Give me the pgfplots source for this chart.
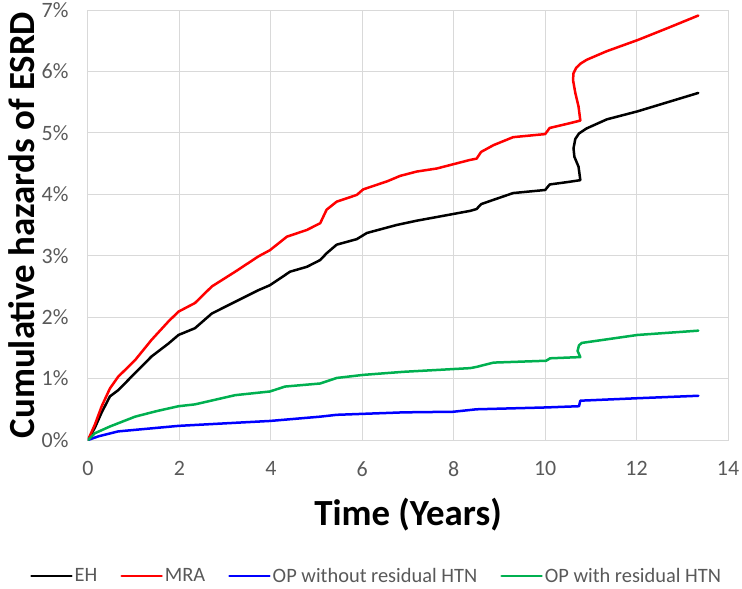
\documentclass[border=0pt]{standalone}
\usepackage{fontspec}
\setmainfont{Carlito}
\usepackage{pgfplots}
\pgfplotsset{compat=1.18}
\definecolor{gridc}{HTML}{D9D9D9}
\definecolor{tickc}{HTML}{595959}
\definecolor{ehc}{HTML}{000000}
\definecolor{mrac}{HTML}{FF0000}
\definecolor{opwo}{HTML}{0000FF}
\definecolor{opw}{HTML}{00B050}
\begin{document}
\begin{tikzpicture}
\begin{axis}[
  scale only axis,
  width=640bp, height=430bp,
  xmin=0, xmax=14, ymin=0, ymax=7,
  xtick={0,2,4,6,8,10,12,14},
  xticklabels={0,2,4,6,8,10,12,14},
  ytick={0,1,2,3,4,5,6,7},
  yticklabels={0\%,1\%,2\%,3\%,4\%,5\%,6\%,7\%},
  major tick length=0pt,
  grid=major,
  grid style={gridc, line width=1bp},
  axis line style={gridc, line width=1bp},
  ticklabel style={font=\fontsize{22}{26}\selectfont, text=tickc},
  xticklabel style={yshift=-18bp},
  yticklabel style={xshift=-16bp},
  xlabel={Time (Years)},
  ylabel={Cumulative hazards of ESRD},
  every axis x label/.style={at={(axis description cs:0.5,0)}, anchor=center, yshift=-75bp, font=\fontsize{37}{42}\selectfont\bfseries},
  every axis y label/.style={at={(axis description cs:0,0.5)}, anchor=center, rotate=90, yshift=66bp, font=\fontsize{37}{42}\selectfont\bfseries},
  legend style={at={(axis description cs:0.451,0)}, anchor=center, yshift=-136bp, draw=none, fill=none,
    font=\fontsize{20.5}{24}\selectfont, text=tickc, inner sep=0pt,
    /tikz/every even column/.append style={column sep=21bp}},
  legend columns=-1,
  legend image code/.code={\draw[#1, line width=2.5bp] (0bp,0bp) -- (40bp,0bp);},
  every axis plot/.append style={line width=2.5bp, line join=round, line cap=round},
]
\addplot[ehc] coordinates {
(0,0) (0.15,0.2) (0.3,0.45) (0.48,0.71) (0.66,0.81) (1.03,1.09) (1.39,1.36) (1.76,1.57) (1.98,1.71)
(2.34,1.82) (2.71,2.06) (3.22,2.25) (3.73,2.44) (3.98,2.52) (4.42,2.74) (4.79,2.82) (5.08,2.93)
(5.22,3.04) (5.44,3.18) (5.88,3.27) (6.10,3.37) (6.75,3.50) (7.19,3.57) (7.63,3.63) (8.36,3.73)
(8.5,3.76) (8.6,3.84) (8.87,3.91) (9.3,4.02) (10.0,4.07) (10.1,4.16) (10.5,4.20) (10.77,4.23)
(10.73,4.45) (10.64,4.61) (10.62,4.75) (10.66,4.90) (10.74,4.99) (10.9,5.07) (11.35,5.22) (12.02,5.35) (13.35,5.65)
};
\addlegendentry{EH}
\addplot[mrac] coordinates {
(0,0) (0.15,0.25) (0.3,0.55) (0.48,0.84) (0.66,1.03) (1.03,1.30) (1.39,1.63) (1.76,1.93) (1.98,2.09)
(2.34,2.23) (2.71,2.50) (3.22,2.74) (3.73,2.99) (3.98,3.09) (4.35,3.31) (4.79,3.42) (5.08,3.53)
(5.22,3.75) (5.44,3.88) (5.88,3.99) (6.02,4.08) (6.54,4.21) (6.83,4.30) (7.19,4.37) (7.63,4.42)
(8.36,4.56) (8.5,4.58) (8.6,4.69) (8.87,4.80) (9.3,4.93) (10.0,4.98) (10.1,5.08) (10.5,5.15) (10.77,5.20)
(10.73,5.43) (10.66,5.65) (10.61,5.86) (10.62,5.97) (10.68,6.06) (10.78,6.13) (10.91,6.19) (11.35,6.33) (12.02,6.51)
(12.66,6.70) (13.35,6.91)
};
\addlegendentry{MRA}
\addplot[opwo] coordinates {
(0,0) (0.23,0.06) (0.66,0.14) (1.98,0.23) (3.22,0.28) (3.98,0.31) (5.08,0.38) (5.44,0.41)
(6.90,0.45) (7.99,0.46) (8.5,0.50) (10.02,0.53) (10.74,0.55) (10.77,0.64) (12.02,0.68) (13.35,0.72)
};
\addlegendentry{OP without residual HTN}
\addplot[opw] coordinates {
(0,0) (0.15,0.11) (0.48,0.22) (1.03,0.38) (1.5,0.47) (1.98,0.55) (2.34,0.58) (3.22,0.73) (3.98,0.79)
(4.31,0.87) (5.08,0.92) (5.44,1.01) (6.02,1.06) (6.90,1.11) (8.36,1.17) (8.5,1.19) (8.87,1.26)
(10.02,1.29) (10.11,1.33) (10.77,1.35) (10.71,1.45) (10.74,1.54) (10.8,1.58) (12.02,1.71) (13.35,1.78)
};
\addlegendentry{OP with residual HTN}
\end{axis}
\pgfresetboundingbox
\path (-88bp,-149bp) rectangle (654bp,440bp);
\end{tikzpicture}
\end{document}
